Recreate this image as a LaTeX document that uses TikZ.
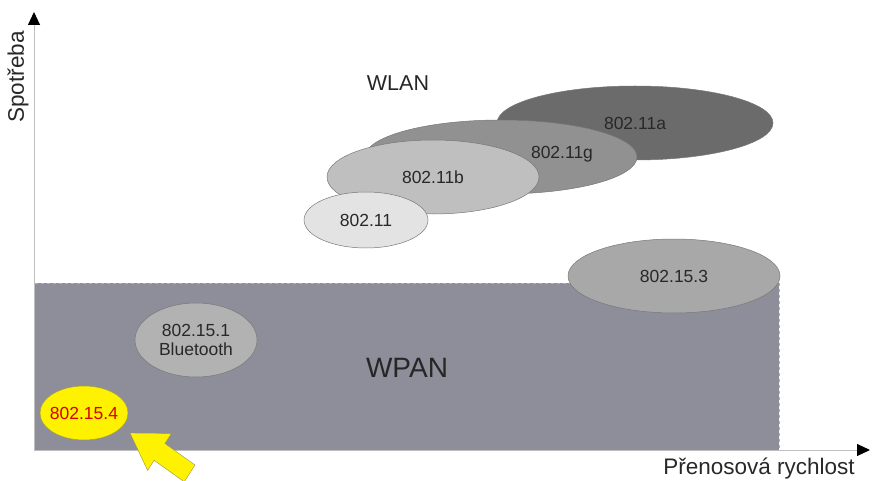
\documentclass[tikz,border=0pt]{standalone}
\usepackage{fontspec}
\setmainfont{Liberation Sans}
\usetikzlibrary{shapes.geometric}
\usetikzlibrary{arrows.meta}
\definecolor{wpanfill}{RGB}{142,142,154}
\definecolor{txtgray}{RGB}{40,40,40}
\definecolor{rimgray}{RGB}{120,120,120}
\tikzset{
  std/.style={ellipse,draw=rimgray,line width=0.5pt,inner sep=0pt,text=txtgray,font=\fontsize{17.5}{19}\selectfont},
  axis/.style={draw=black!25,line width=1pt,-{Triangle[black,length=13pt,width=12pt]}}
}
\begin{document}
\begin{tikzpicture}[x=1pt,y=-1pt]
\useasboundingbox (0,0) rectangle (872,481);
\coordinate (O) at (34,450);
\coordinate (Y) at (34,12);
\coordinate (X) at (870,450);
% WPAN area
\fill[wpanfill] (34,283) rectangle (779,450);
\draw[black!30,dashed,line width=0.5pt] (34,450)--(34,283)--(779,283)--(779,450);
\node[font=\fontsize{28}{30}\selectfont,text=black!85] (wpan) at (407,368) {WPAN};
% axes
\draw[axis] (O)--(Y);
\draw[axis] (O)--(X);
\node[rotate=90,font=\fontsize{22.5}{25}\selectfont,text=txtgray] (spot) at (18,77) {Spotřeba};
\node[font=\fontsize{22.5}{25}\selectfont,text=txtgray] (rych) at (759,469) {Přenosová rychlost};
% WLAN
\node[font=\fontsize{21.5}{23}\selectfont,text=black!85] (wlan) at (398,83) {WLAN};
\node[std,fill=black!58,minimum width=276,minimum height=74] (a11) at (635,123) {802.11a};
\node[std,fill=black!43,minimum width=272,minimum height=74] (g11) at (501,157) {};
\node[font=\fontsize{17.5}{19}\selectfont,text=txtgray] (g11lbl) at (562,154) {802.11g};
\node[std,fill=black!25,minimum width=212,minimum height=74] (b11) at (433,177) {802.11b};
\node[std,fill=black!11,minimum width=124,minimum height=56] (p11) at (366,220) {802.11};
% WPAN
\node[std,fill=black!34,minimum width=212,minimum height=74] (p153) at (674,276) {802.15.3};
\node[std,fill=black!30,minimum width=122,minimum height=74,align=center] (p151) at (196,340) {802.15.1\\Bluetooth};
\node[std,draw=yellow!60!black,fill=yellow,text=red!85!black,inner xsep=-4pt,minimum width=88,minimum height=54] (p154) at (84,413) {802.15.4};
% yellow arrow
\fill[yellow,draw=yellow!55!black,line width=0.4pt]
  (130,433)--(171.4,433.4)--(164.9,443.5)--(195,465)--(184.2,481.8)--(154.1,460.3)--(147.6,470.4)--cycle;
\end{tikzpicture}
\end{document}
